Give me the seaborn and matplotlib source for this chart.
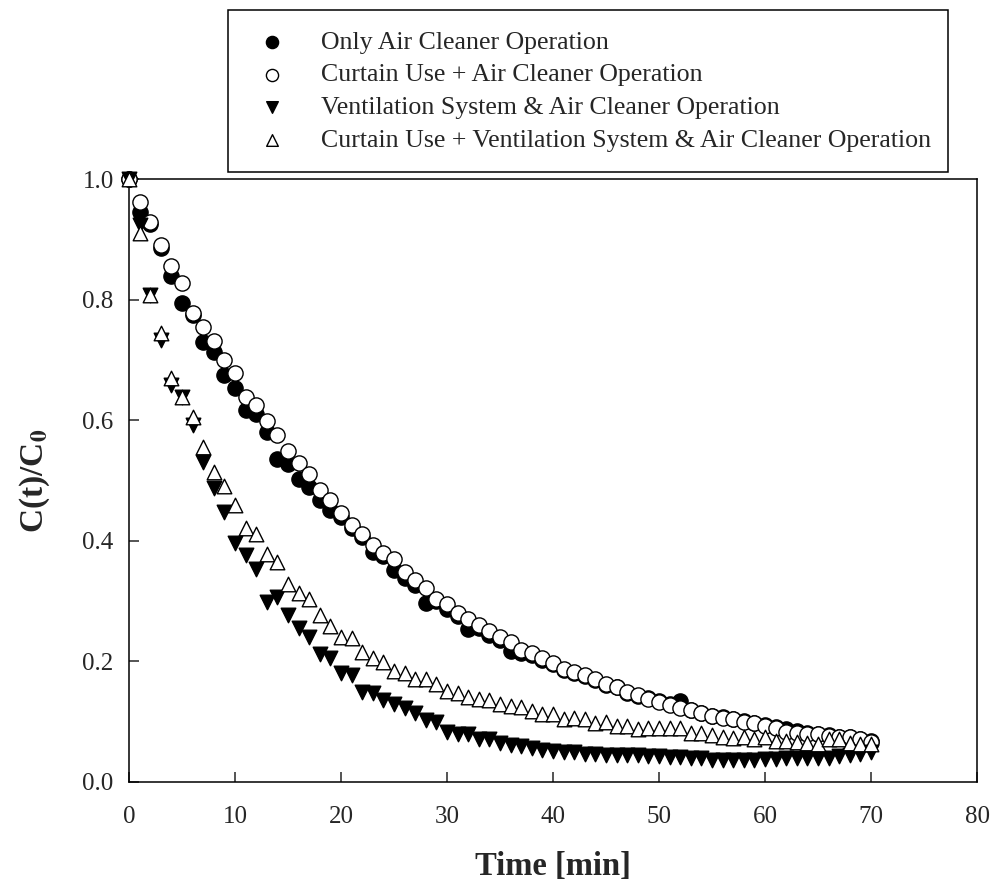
import numpy as np
import pandas as pd
import matplotlib
matplotlib.use("Agg")
import matplotlib.pyplot as plt
import seaborn as sns

sns.set_theme(style="ticks")
plt.rcParams['font.family'] = ['Liberation Serif', 'DejaVu Serif']
plt.rcParams['mathtext.fontset'] = 'stix'

time = list(range(0, 71))

only_cleaner = [1.0, 0.946, 0.925, 0.886, 0.839, 0.794, 0.774, 0.730, 0.713, 0.675,
                0.653, 0.617, 0.610, 0.581, 0.536, 0.528, 0.502, 0.489, 0.468, 0.451,
                0.440, 0.421, 0.407, 0.382, 0.374, 0.352, 0.338, 0.327, 0.296, 0.300,
                0.287, 0.276, 0.254, 0.255, 0.244, 0.236, 0.217, 0.214, 0.210, 0.202,
                0.196, 0.186, 0.180, 0.175, 0.169, 0.161, 0.157, 0.148, 0.143, 0.140,
                0.134, 0.130, 0.134, 0.120, 0.114, 0.110, 0.107, 0.104, 0.101, 0.098,
                0.095, 0.091, 0.088, 0.084, 0.082, 0.080, 0.078, 0.075, 0.074, 0.072,
                0.068]

curtain_cleaner = [1.0, 0.962, 0.929, 0.890, 0.855, 0.827, 0.778, 0.755, 0.732, 0.700,
                   0.678, 0.639, 0.625, 0.598, 0.575, 0.549, 0.529, 0.511, 0.484, 0.468,
                   0.446, 0.426, 0.412, 0.393, 0.380, 0.369, 0.349, 0.335, 0.321, 0.304,
                   0.295, 0.280, 0.271, 0.260, 0.251, 0.241, 0.232, 0.219, 0.214, 0.205,
                   0.198, 0.188, 0.183, 0.177, 0.170, 0.163, 0.157, 0.150, 0.144, 0.137,
                   0.133, 0.128, 0.122, 0.119, 0.114, 0.110, 0.106, 0.104, 0.100, 0.097,
                   0.093, 0.089, 0.083, 0.081, 0.080, 0.079, 0.076, 0.074, 0.074, 0.071,
                   0.067]

vent_cleaner = [1.0, 0.924, 0.808, 0.733, 0.658, 0.639, 0.592, 0.531, 0.487, 0.448,
                0.396, 0.376, 0.354, 0.299, 0.307, 0.277, 0.255, 0.241, 0.213, 0.205,
                0.181, 0.177, 0.150, 0.147, 0.136, 0.130, 0.122, 0.114, 0.103, 0.100,
                0.083, 0.080, 0.079, 0.072, 0.071, 0.064, 0.062, 0.060, 0.056, 0.053,
                0.052, 0.050, 0.049, 0.046, 0.046, 0.045, 0.045, 0.045, 0.044, 0.043,
                0.043, 0.042, 0.041, 0.040, 0.039, 0.037, 0.036, 0.036, 0.037, 0.037,
                0.038, 0.038, 0.039, 0.039, 0.040, 0.040, 0.040, 0.043, 0.045, 0.047,
                0.050]

curtain_vent_cleaner = [1.0, 0.910, 0.808, 0.745, 0.670, 0.639, 0.606, 0.556, 0.514, 0.491,
                        0.459, 0.421, 0.412, 0.378, 0.364, 0.329, 0.313, 0.303, 0.277, 0.259,
                        0.241, 0.238, 0.216, 0.206, 0.199, 0.184, 0.180, 0.170, 0.171, 0.163,
                        0.151, 0.147, 0.141, 0.138, 0.136, 0.129, 0.126, 0.125, 0.117, 0.113,
                        0.112, 0.105, 0.106, 0.104, 0.098, 0.100, 0.093, 0.093, 0.088, 0.089,
                        0.090, 0.089, 0.089, 0.081, 0.082, 0.078, 0.075, 0.073, 0.075, 0.071,
                        0.075, 0.068, 0.068, 0.066, 0.065, 0.063, 0.071, 0.071, 0.065, 0.063,
                        0.063]

labels = ["Only Air Cleaner Operation",
          "Curtain Use + Air Cleaner Operation",
          "Ventilation System & Air Cleaner Operation",
          "Curtain Use + Ventilation System & Air Cleaner Operation"]
series = [only_cleaner, curtain_cleaner, vent_cleaner, curtain_vent_cleaner]
markers = ["o", "o", "v", "^"]
faces = ["black", "white", "black", "white"]
sizes = [120, 120, 110, 110]

fig = plt.figure(figsize=(9.92, 8.88), dpi=100)
ax = fig.add_axes([0.130, 0.1194, 0.855, 0.6790])

for lab, vals, m, fc, s in zip(labels, series, markers, faces, sizes):
    df = pd.DataFrame({"Time": time, "C": vals})
    sns.scatterplot(data=df, x="Time", y="C", ax=ax, marker=m, s=s,
                    facecolor=fc, edgecolor="black", linewidth=1.0,
                    label=lab, clip_on=False, zorder=3)

ax.set_xlim(0, 80)
ax.set_ylim(0, 1.0)
ax.set_xticks(range(0, 81, 10))
ax.set_yticks([0.0, 0.2, 0.4, 0.6, 0.8, 1.0])
ax.set_yticklabels(["0.0", "0.2", "0.4", "0.6", "0.8", "1.0"])
ax.tick_params(direction="in", length=7, width=1.1, labelsize=18,
               top=False, right=False)
ax.tick_params(axis="x", pad=17)
ax.tick_params(axis="y", pad=11)
for sp in ax.spines.values():
    sp.set_visible(True)
    sp.set_linewidth(1.1)
    sp.set_color("black")

ax.set_xlabel("Time [min]", fontsize=23.5, fontweight="bold", labelpad=17)
ax.set_ylabel(r"C(t)/C$_\mathbf{0}$", fontsize=24, fontweight="bold", labelpad=22)

handles, labs = ax.get_legend_handles_labels()
ax.get_legend().remove()
leg = fig.legend(handles, labs, loc="upper left",
                 bbox_to_anchor=(0.2298, 0.8086, 0.7258, 0.1801), mode="expand",
                 borderaxespad=0, fontsize=18.6, markerscale=0.8, frameon=True,
                 fancybox=False, edgecolor="black", framealpha=1,
                 borderpad=0.8, labelspacing=0.37, handlelength=1.8, handletextpad=1.0)
leg.get_frame().set_linewidth(1.1)

fig.savefig("out.png", dpi=100)
